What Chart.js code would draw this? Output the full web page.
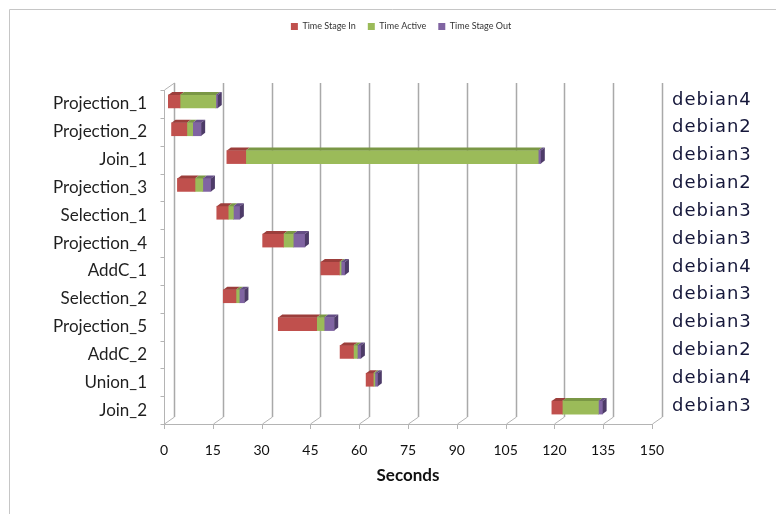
<!DOCTYPE html>
<html>
<head>
<meta charset="utf-8">
<script src="https://cdn.jsdelivr.net/npm/chart.js@4.4.1/dist/chart.umd.min.js"></script>
<style>
  html, body { margin: 0; padding: 0; background: #ffffff; }
  #wrap { width: 776px; height: 514px; position: relative; }
</style>
</head>
<body>
<div id="wrap"><canvas id="c" width="776" height="514"></canvas></div>
<script>
// Operator schedule: each task's start and the duration of its three phases (seconds)
const tasks = ['Projection_1', 'Projection_2', 'Join_1', 'Projection_3', 'Selection_1', 'Projection_4',
               'AddC_1', 'Selection_2', 'Projection_5', 'AddC_2', 'Union_1', 'Join_2'];
const hosts = ['debian4', 'debian2', 'debian3', 'debian2', 'debian3', 'debian3',
               'debian4', 'debian3', 'debian3', 'debian2', 'debian4', 'debian3'];
const startTime = [0.4, 1.4, 18.4, 3.2, 15.3, 29.4, 47.3, 17.3, 34.2, 53.2, 61.2, 118.3];
const stageIn   = [3.6, 4.7, 5.8, 5.4, 3.5, 6.4, 5.7, 3.9, 11.8, 4.1, 2.2, 3.2];
const active    = [11.0, 1.8, 89.9, 2.4, 1.6, 3.0, 0.5, 1.0, 2.3, 1.2, 0.5, 11.1];
const stageOut  = [0.6, 2.6, 0.8, 2.5, 2.0, 3.6, 1.2, 1.6, 3.1, 1.1, 0.9, 1.3];
const xTicks    = [0, 15, 30, 45, 60, 75, 90, 105, 120, 135, 150];

// Floating segments [from, to] built from the phase durations
const inSpan = tasks.map((_, i) => [startTime[i], startTime[i] + stageIn[i]]);
const activeSpan = tasks.map((_, i) => [inSpan[i][1], inSpan[i][1] + active[i]]);
const outSpan = tasks.map((_, i) => [activeSpan[i][1], activeSpan[i][1] + stageOut[i]]);

const WALL = { dx: 10, dy: -7 };     // depth of the back wall
const BAR = { dx: 3, dy: -2.5 };     // bars sit part-way into the depth
const FACE = { dx: 4, dy: -3 };      // thickness of each bar block

const shade = {
  '#C0504D': { top: '#9C3E3B', side: '#7E302E' },
  '#9BBB59': { top: '#7A9745', side: '#627A36' },
  '#8064A2': { top: '#654E85', side: '#4D3B68' }
};

// Back wall, floor and axis lines of the pseudo-3D frame
const framePlugin = {
  id: 'frame3d',
  beforeDraw(chart) {
    const ctx = chart.ctx;
    ctx.save();
    ctx.strokeStyle = '#c6c6c6';
    ctx.lineWidth = 1;
    ctx.beginPath();
    ctx.moveTo(9.5, 514); ctx.lineTo(9.5, 9.5); ctx.lineTo(776, 9.5);
    ctx.stroke();
    ctx.restore();
  },
  beforeDatasetsDraw(chart) {
    const { ctx, chartArea: a, scales: { x, y } } = chart;
    ctx.save();
    // vertical gridlines on the back wall
    ctx.strokeStyle = '#a9a9a9';
    ctx.lineWidth = 1.5;
    xTicks.forEach(v => {
      const px = Math.round(x.getPixelForValue(v)) + 0.5;
      ctx.beginPath();
      ctx.moveTo(px + WALL.dx, a.top + WALL.dy);
      ctx.lineTo(px + WALL.dx, a.bottom + WALL.dy);
      ctx.stroke();
    });
    // floor diagonals and bottom axis
    ctx.strokeStyle = '#b4b4b4';
    ctx.lineWidth = 1;
    xTicks.forEach(v => {
      const px = Math.round(x.getPixelForValue(v)) + 0.5;
      ctx.beginPath();
      ctx.moveTo(px, a.bottom);
      ctx.lineTo(px + WALL.dx, a.bottom + WALL.dy);
      ctx.moveTo(px, a.bottom);
      ctx.lineTo(px, a.bottom + 5);
      ctx.stroke();
    });
    const by = Math.round(a.bottom) + 0.5;
    ctx.beginPath();
    ctx.moveTo(a.left, by); ctx.lineTo(a.right + 1, by);
    ctx.stroke();
    // front vertical axis with category tick marks
    const lx = Math.round(a.left) + 0.5;
    ctx.beginPath();
    ctx.moveTo(lx, a.top); ctx.lineTo(lx, a.bottom);
    ctx.moveTo(lx, a.top); ctx.lineTo(lx + WALL.dx, a.top + WALL.dy);
    ctx.stroke();
    for (let i = 0; i <= tasks.length; i++) {
      const ty = Math.round(a.top + i * (a.bottom - a.top) / tasks.length) + 0.5;
      ctx.beginPath();
      ctx.moveTo(lx - 4, ty); ctx.lineTo(lx, ty);
      ctx.stroke();
    }
    ctx.restore();
    // bars are drawn shifted into the depth
    ctx.save();
    ctx.translate(BAR.dx, BAR.dy);
  },
  afterDatasetsDraw(chart) {
    const ctx = chart.ctx;
    const n = chart.data.datasets.length;
    chart.data.datasets.forEach((ds, di) => {
      const meta = chart.getDatasetMeta(di);
      const col = shade[ds.backgroundColor];
      meta.data.forEach(el => {
        const { x, y, base, height } = el.getProps(['x', 'y', 'base', 'height'], true);
        const t = y - height / 2, b = y + height / 2;
        ctx.fillStyle = col.top;
        ctx.beginPath();
        ctx.moveTo(base, t); ctx.lineTo(x, t);
        ctx.lineTo(x + FACE.dx, t + FACE.dy); ctx.lineTo(base + FACE.dx, t + FACE.dy);
        ctx.closePath(); ctx.fill();
        if (di === n - 1) {
          ctx.fillStyle = col.side;
          ctx.beginPath();
          ctx.moveTo(x, t); ctx.lineTo(x + FACE.dx, t + FACE.dy);
          ctx.lineTo(x + FACE.dx, b + FACE.dy); ctx.lineTo(x, b);
          ctx.closePath(); ctx.fill();
        }
      });
    });
    ctx.restore();
  },
  afterLayout(chart) {
    // host names drawn with a little extra tracking
    const s = chart.scales.y2;
    if (s && !s._tracked) {
      const orig = s.drawLabels.bind(s);
      s.drawLabels = function (area) {
        const c = chart.ctx;
        const prev = c.letterSpacing;
        c.letterSpacing = '1px';
        orig(area);
        c.letterSpacing = prev || '0px';
      };
      s._tracked = true;
    }
  }
};

new Chart(document.getElementById('c'), {
  type: 'bar',
  data: {
    labels: tasks,
    datasets: [
      { label: 'Time Stage In', data: inSpan, backgroundColor: '#C0504D' },
      { label: 'Time Active', data: activeSpan, backgroundColor: '#9BBB59' },
      { label: 'Time Stage Out', data: outSpan, backgroundColor: '#8064A2' }
    ]
  },
  options: {
    indexAxis: 'y',
    responsive: false,
    devicePixelRatio: 1,
    animation: false,
    layout: { padding: { left: 26, right: 0, top: 10, bottom: 0 } },
    datasets: { bar: { grouped: false, barThickness: 13, borderWidth: 0, clip: false } },
    scales: {
      x: {
        type: 'linear', min: 0, max: 150,
        afterBuildTicks: s => { s.ticks = xTicks.map(v => ({ value: v })); },
        afterFit: s => { s.height = 90; },
        grid: { display: false, drawTicks: false },
        border: { display: false },
        ticks: { padding: 18, color: '#111', font: { family: 'Lato', size: 14 } },
        title: { display: true, text: 'Seconds', color: '#111',
                 font: { family: 'Lato', size: 17, weight: 'bold' },
                 padding: { top: 4, bottom: 28 } }
      },
      y: {
        afterFit: s => { s.width = 138; },
        grid: { display: false, drawTicks: false },
        border: { display: false },
        ticks: { padding: 17, color: '#1f1f1f', font: { family: 'Lato', size: 17 } }
      },
      y2: {
        type: 'category', labels: hosts, position: 'right', offset: true,
        min: 0, max: hosts.length - 1,
        afterFit: s => { s.width = 124; },
        grid: { display: false, drawTicks: false },
        border: { display: false },
        ticks: { padding: 20, labelOffset: -4, color: '#15173a',
                 font: { family: 'DejaVu Sans', size: 18 } }
      }
    },
    plugins: {
      legend: {
        position: 'top',
        labels: { boxWidth: 7, boxHeight: 7, padding: 12, color: '#333',
                  font: { family: 'Lato', size: 9 } }
      },
      title: { display: true, text: '', weight: 500, font: { size: 1, lineHeight: 1 },
               padding: { top: 0, bottom: 48 } },
      tooltip: { enabled: false }
    }
  },
  plugins: [framePlugin]
});
</script>
</body>
</html>
